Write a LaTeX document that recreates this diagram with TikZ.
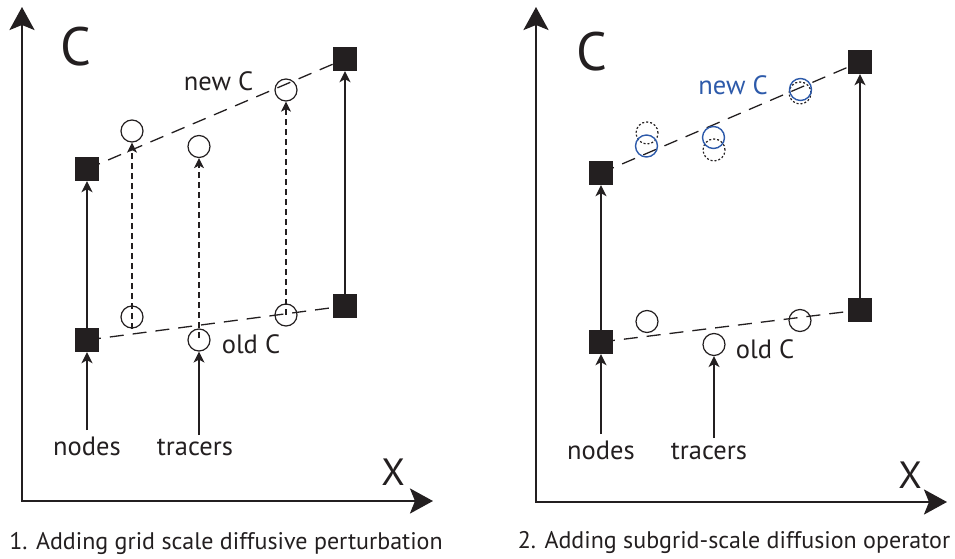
\documentclass[tikz,border=0pt]{standalone}
\usepackage{fontspec}
\setmainfont{PT Sans}
\usetikzlibrary{arrows.meta}
\definecolor{ink}{RGB}{35,31,32}
\definecolor{diffblue}{RGB}{45,90,170}

\begin{document}
\begin{tikzpicture}[x=1pt,y=-1pt,
  nodebox/.style={draw=none,fill=ink,minimum size=24pt,inner sep=0pt},
  tracer/.style={draw=ink,circle,minimum size=22pt,inner sep=0pt,line width=1.2pt},
  shifted/.style={tracer,draw=diffblue,line width=1.4pt},
  ghost/.style={tracer,dash pattern=on 2pt off 2pt,line width=1.2pt},
  axis/.style={draw=ink,line width=2.6pt,line join=miter,
    {Stealth[length=23pt,width=25pt,inset=5pt]}-{Stealth[length=23pt,width=25pt,inset=5pt]}},
  push/.style={draw=ink,line width=1.4pt,-{Stealth[length=11pt,width=11pt,inset=3pt]}},
  profile/.style={draw=ink,line width=1.3pt,dash pattern=on 14pt off 9pt},
  drift/.style={draw=ink,line width=1.2pt,dash pattern=on 6pt off 4pt,-{Stealth[length=10pt,width=10pt,inset=2.5pt]}},
  lbl/.style={font=\fontsize{26.5}{30}\selectfont,text=ink,inner sep=0pt,anchor=base},
  caption/.style={font=\fontsize{24}{28}\selectfont,text=ink,inner sep=0pt,anchor=base},
  biglbl/.style={font=\fontsize{54}{60}\selectfont,text=ink,inner sep=0pt,anchor=base},
  xlbl/.style={font=\fontsize{38}{44}\selectfont,text=ink,inner sep=0pt,anchor=base}
]
\useasboundingbox (0,0) rectangle (955,559);

% ---------- panel 1: grid scale diffusive perturbation ----------
\coordinate (o1) at (22,501);
\coordinate (yt1) at (22,7);
\coordinate (xt1) at (433,501);
\draw[axis] (yt1) -- (o1) -- (xt1);
\node[biglbl] (C1) at (76,66) {C};
\node[xlbl] (X1) at (393,485) {X};

\node[nodebox] (nb1) at (87,340) {};
\node[nodebox] (nt1) at (87,169) {};
\node[nodebox] (mb1) at (345,306) {};
\node[nodebox] (mt1) at (345,59) {};

\draw[profile] (nb1.center) -- (mb1.center);
\draw[profile] (nt1.center) -- (mt1.center);
\node[nodebox] at (nb1) {};
\node[nodebox] at (nt1) {};
\node[nodebox] at (mb1) {};
\node[nodebox] at (mt1) {};

\node[tracer] (ob1a) at (132,317) {};
\node[tracer] (ob1b) at (199,340) {};
\node[tracer] (ob1c) at (286,315) {};
\node[tracer] (nw1a) at (132,131) {};
\node[tracer] (nw1b) at (199,146.5) {};
\node[tracer] (nw1c) at (286,90) {};

\draw[push] (nb1) -- (nt1);
\draw[push] (mb1) -- (mt1);

\coordinate (s1a) at (132,329);
\coordinate (s1b) at (199,338);
\coordinate (s1c) at (286,315);
\draw[drift] (s1a) -- (nw1a.south);
\draw[drift] (s1b) -- (nw1b.south);
\draw[drift] (s1c) -- (nw1c.south);

\node[lbl] (newC1) at (218.5,91) {new C};
\node[lbl] (oldC1) at (251,353) {old C};
\node[lbl] (nodes1) at (87,455) {nodes};
\node[lbl] (tracers1) at (195,455) {tracers};
\coordinate (ln1) at (87,430);
\coordinate (lt1) at (199,435);
\draw[push] (ln1) -- (nb1.south);
\draw[push] (lt1) -- (ob1b.south);

\node[caption] (cap1) at (226,549) {1. Adding grid scale diffusive perturbation};

% ---------- panel 2: subgrid-scale diffusion operator ----------
\coordinate (o2) at (536,502);
\coordinate (yt2) at (536,7);
\coordinate (xt2) at (947,502);
\draw[axis] (yt2) -- (o2) -- (xt2);
\node[biglbl] (C2) at (592,71) {C};
\node[xlbl] (X2) at (910,488) {X};

\node[nodebox] (nb2) at (601,342) {};
\node[nodebox] (nt2) at (601,173) {};
\node[nodebox] (mb2) at (860,310) {};
\node[nodebox] (mt2) at (860,62) {};

\draw[profile] (nb2.center) -- (mb2.center);
\draw[profile] (nt2.center) -- (mt2.center);
\node[nodebox] at (nb2) {};
\node[nodebox] at (nt2) {};
\node[nodebox] at (mb2) {};
\node[nodebox] at (mt2) {};

\node[tracer] (ob2a) at (647,321.5) {};
\node[tracer] (ob2b) at (714,344.5) {};
\node[tracer] (ob2c) at (800,320.5) {};

\node[ghost] (gh2a) at (647,133) {};
\node[ghost] (gh2b) at (714,150) {};
\node[ghost] (gh2c) at (800,93) {};
\node[shifted] (nw2a) at (646.5,146) {};
\node[shifted] (nw2b) at (713.5,137.5) {};
\node[shifted] (nw2c) at (800.5,89.5) {};

\draw[push] (nb2) -- (nt2);
\draw[push] (mb2) -- (mt2);

\node[lbl,text=diffblue] (newC2) at (733,95) {new C};
\node[lbl] (oldC2) at (765,358) {old C};
\node[lbl] (nodes2) at (601,459) {nodes};
\node[lbl] (tracers2) at (709,459) {tracers};
\coordinate (ln2) at (601,434);
\coordinate (lt2) at (714,438);
\draw[push] (ln2) -- (nb2.south);
\draw[push] (lt2) -- (ob2b.south);

\node[caption] (cap2) at (734,548) {2. Adding subgrid-scale diffusion operator};
\end{tikzpicture}
\end{document}
